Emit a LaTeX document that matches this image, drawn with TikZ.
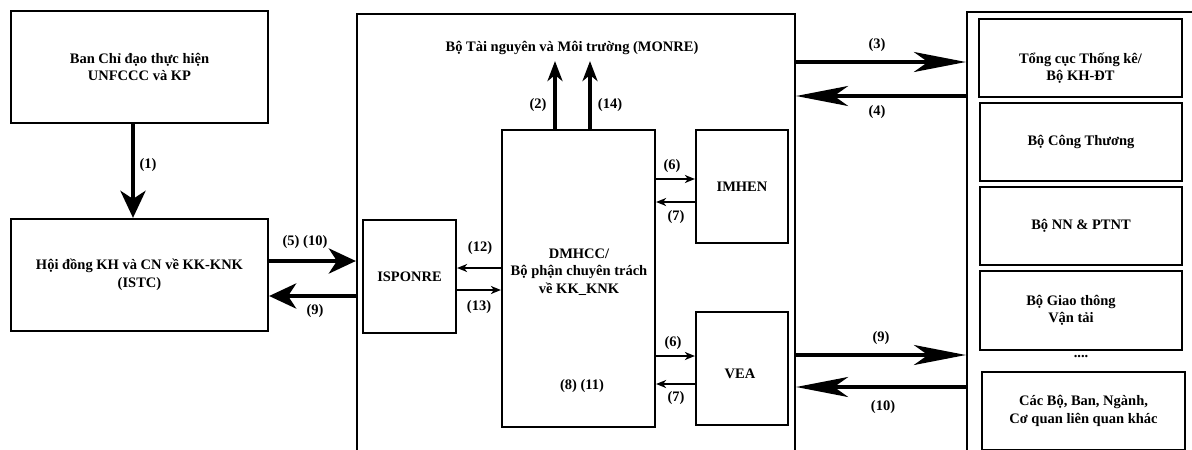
\documentclass[tikz,border=0pt]{standalone}
\usepackage{fontspec}
\setmainfont{Liberation Serif}
\usetikzlibrary{arrows.meta}

\begin{document}
\begin{tikzpicture}[x=1pt, y=-1pt,
    font=\fontsize{14.5}{17.5}\selectfont\bfseries,
    box/.style={draw, line width=2.2pt, inner sep=0pt, align=center},
    widearr/.style={line width=4.5pt, -{Stealth[length=27pt, width=25pt, inset=8pt]}},
    longarr/.style={line width=4pt, -{Stealth[length=52pt, width=20pt, inset=14pt]}},
    uparr/.style={line width=4pt, -{Stealth[length=20pt, width=15pt, inset=6pt]}},
    smallarr/.style={line width=2pt, -{Stealth[length=10pt, width=8pt, inset=3pt]}}]

% frame
\useasboundingbox (0,0) rectangle (1192,450);
\fill[white] (0,0) rectangle (1192,450);
\clip (0,0) rectangle (1192,450);

% left boxes
\node[box, minimum width=257pt, minimum height=112pt] (ban) at (139.5,67) {Ban Chỉ đạo thực hiện\\UNFCCC và KP};
\node[box, minimum width=257pt, minimum height=112pt] (istc) at (139.5,275) {Hội đồng KH và CN về KK-KNK\\(ISTC)};

% middle boxes
\node[box, minimum width=438pt, minimum height=456pt] (mid) at (576,242) {};
\node[outer sep=3pt] (monre) at (572,48) {Bộ Tài nguyên và Môi trường (MONRE)};
\node[box, minimum width=93pt, minimum height=113pt] (isponre) at (409.5,276.5) {ISPONRE};
\node[box, minimum width=153pt, minimum height=297pt] (dmhcc) at (578.5,278.5) {};
\node[align=center] (dmtxt) at (579,272) {DMHCC/\\Bộ phận chuyên trách\\về KK\_KNK};
\node (dmlbl) at (582,386) {(8) (11)};
\node[box, minimum width=92pt, minimum height=113pt] (imhen) at (742,186.5) {IMHEN};
\node[box, minimum width=92pt, minimum height=113pt] (vea) at (742,368.5) {};
\node (veatxt) at (740,374) {VEA};

% right boxes
\node[box, minimum width=233pt, minimum height=458pt] (bo) at (1083.5,241) {};
\node[box, minimum width=203pt, minimum height=78pt] (tk) at (1080.5,58) {};
\node[align=center] (tktxt) at ([yshift=-10pt]tk.center) {Tổng cục Thống kê/\\Bộ KH-ĐT};
\node[box, minimum width=202pt, minimum height=78pt] (ct) at (1081,142) {Bộ Công Thương};
\node[box, minimum width=202pt, minimum height=78pt] (nn) at (1081,226) {Bộ NN \& PTNT};
\node[box, minimum width=202pt, minimum height=79pt] (gt) at (1081,310.5) {};
\node[align=center] (gttxt) at ([xshift=-10pt]gt.center) {Bộ Giao thông\\Vận tải};
\node (dots) at (1081,357) {....};
\node[box, minimum width=203pt, minimum height=78pt] (khac) at (1083.5,411) {Các Bộ, Ban, Ngành,\\Cơ quan liên quan khác};

% thick arrows
\draw[widearr] ([xshift=-6.5pt]ban.south) -- ([xshift=-6.5pt]istc.north);
\draw[widearr] (istc.east |- 0,261) -- (mid.west |- 0,261);
\draw[widearr] (mid.west |- 0,296) -- (istc.east |- 0,296);
\draw[uparr] (dmhcc.north -| 555,0) -- (monre.south -| 555,0);
\draw[uparr] (dmhcc.north -| 590,0) -- (monre.south -| 590,0);
\draw[longarr] (mid.east |- 0,62) -- (bo.west |- 0,62);
\draw[longarr] (bo.west |- 0,96) -- (mid.east |- 0,96);
\draw[longarr] (mid.east |- 0,355) -- (bo.west |- 0,355);
\draw[longarr] (bo.west |- 0,387) -- (mid.east |- 0,387);

% thin arrows
\draw[smallarr] (dmhcc.west |- 0,268) -- (isponre.east |- 0,268);
\draw[smallarr] (isponre.east |- 0,290) -- (dmhcc.west |- 0,290);
\draw[smallarr] (dmhcc.east |- 0,179) -- (imhen.west |- 0,179);
\draw[smallarr] (imhen.west |- 0,202) -- (dmhcc.east |- 0,202);
\draw[smallarr] (dmhcc.east |- 0,356) -- (vea.west |- 0,356);
\draw[smallarr] (vea.west |- 0,384) -- (dmhcc.east |- 0,384);

% arrow labels
\node (n1) at (148,165) {(1)};
\node (n5) at (305,242) {(5) (10)};
\node (n9) at (315,311) {(9)};
\node (n2) at (538,105) {(2)};
\node (n14) at (610,105) {(14)};
\node (n12) at (480,248) {(12)};
\node (n13) at (479,307) {(13)};
\node (n6a) at (672,166) {(6)};
\node (n7a) at (676,217) {(7)};
\node (n6b) at (673,343) {(6)};
\node (n7b) at (676,398) {(7)};
\node (n3) at (877,45) {(3)};
\node (n4) at (877,112) {(4)};
\node (n9b) at (881,338) {(9)};
\node (n10) at (883,407) {(10)};

\end{tikzpicture}
\end{document}
